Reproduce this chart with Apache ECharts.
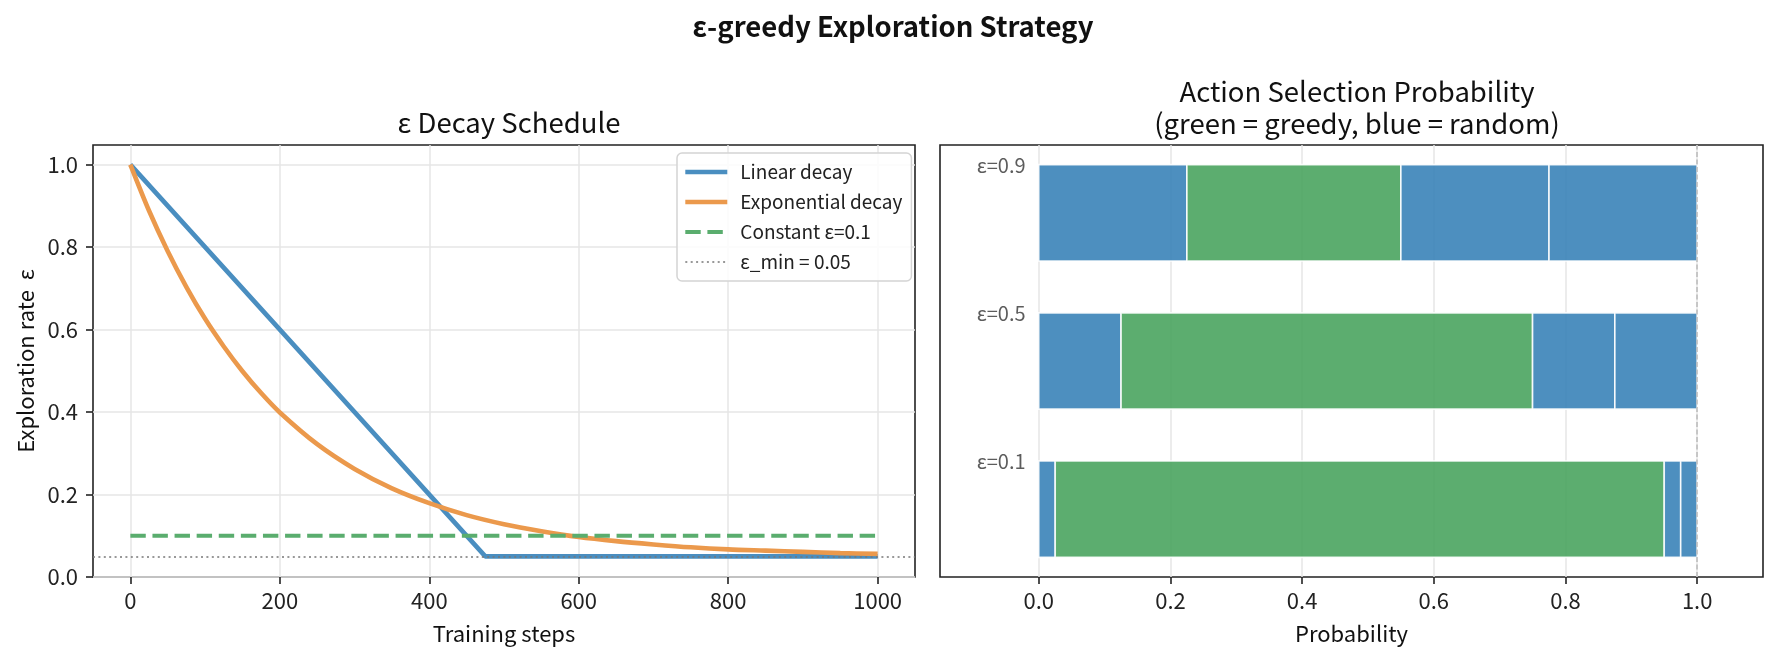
<!DOCTYPE html>
<html>
<head>
<meta charset="utf-8">
<script src="https://cdn.jsdelivr.net/npm/echarts@6/dist/echarts.min.js"></script>
<style>
  html, body { margin: 0; padding: 0; background: #fff; }
  #chart { width: 1777px; height: 661px; }
</style>
</head>
<body>
<div id="chart"></div>
<script>
// left panel: epsilon decay schedules
const linearSteps = [0, 475, 1000];
const linearEps = [1.0, 0.05, 0.05];

const expSteps = [0, 25, 50, 75, 100, 125, 150, 175, 200, 250, 300, 350, 400, 450,
  500, 550, 600, 650, 700, 750, 800, 850, 900, 950, 1000];
const expEps = [1.0, 0.888, 0.79, 0.703, 0.626, 0.559, 0.499, 0.446, 0.399, 0.322,
  0.262, 0.215, 0.179, 0.15, 0.128, 0.111, 0.097, 0.087, 0.079, 0.072, 0.067,
  0.064, 0.061, 0.058, 0.056];

const constSteps = [0, 1000];
const constEps = [0.1, 0.1];
const epsMin = 0.05;

const leftXTicks = [0, 200, 400, 600, 800, 1000];
const leftYTicks = [0, 0.2, 0.4, 0.6, 0.8, 1.0];

// right panel: action probabilities (4 actions, 2nd one greedy)
const epsLabels = ["ε=0.1", "ε=0.5", "ε=0.9"];
const segAction1 = [0.025, 0.125, 0.225];
const segGreedy = [0.925, 0.625, 0.325];
const segAction3 = [0.025, 0.125, 0.225];
const segAction4 = [0.025, 0.125, 0.225];
const segKinds = ["random", "greedy", "random", "random"];
const rightXTicks = [0, 0.2, 0.4, 0.6, 0.8, 1.0];

const blue = "#4A8EC0";
const orange = "#EB994C";
const green = "#5AAD6E";
const barBlue = "#347FB6";
const barGreen = "#46A25B";
const font = "'Noto Sans CJK SC', 'Source Sans Pro', 'Noto Sans', sans-serif";
const ink = "#222";

let chartDom = document.getElementById("chart");
let myChart = echarts.init(chartDom, null, { renderer: "canvas" });

// build bar segments from the arrays
let segRows = [segAction1, segGreedy, segAction3, segAction4];
let barData = [];
epsLabels.forEach((lab, row) => {
  let start = 0;
  segRows.forEach((seg, k) => {
    barData.push([start, start + seg[row], row, k]);
    start += seg[row];
  });
});
let labelData = epsLabels.map((lab, row) => [-0.02, row + 0.32, lab]);

const barHalf = 0.325;

let axisCommon = {
  axisLine: { show: false, onZero: false },
  axisTick: { show: true, length: 7, lineStyle: { color: ink, width: 1.6 } },
  axisLabel: { color: ink, fontSize: 22, fontFamily: font },
  splitLine: { show: true, lineStyle: { color: "#e6e6e6", width: 1.5 } },
  nameTextStyle: { color: "#111", fontSize: 22, fontFamily: font },
};

let option = {
  animation: false,
  backgroundColor: "#fff",
  textStyle: { fontFamily: font },
  title: [
    {
      text: "ε-greedy Exploration Strategy",
      left: 888, top: 5, textAlign: "center",
      textStyle: { fontSize: 27.5, fontWeight: "bold", color: "#111", fontFamily: font, lineHeight: 34 },
    },
    {
      text: "ε Decay Schedule",
      left: 504, top: 102, textAlign: "center",
      textStyle: { fontSize: 27.5, fontWeight: "normal", color: "#111", fontFamily: font, lineHeight: 32 },
    },
    {
      text: "Action Selection Probability\n(green = greedy, blue = random)",
      left: 1352, top: 71, textAlign: "center",
      textStyle: { fontSize: 27.5, fontWeight: "normal", color: "#111", fontFamily: font, lineHeight: 31.6 },
    },
  ],
  legend: {
    data: ["Linear decay", "Exponential decay", "Constant ε=0.1", "ε_min = 0.05"],
    orient: "vertical",
    left: 677, top: 153,
    itemWidth: 42, itemHeight: 14, itemGap: 8,
    padding: [8, 9, 8, 6],
    itemStyle: { opacity: 0 },
    lineStyle: { width: "inherit", type: "inherit" },
    borderColor: "#d4d4d4", borderWidth: 1.5, borderRadius: 5,
    backgroundColor: "rgba(255,255,255,0.85)",
    textStyle: { fontSize: 19, color: ink, fontFamily: font, lineHeight: 22, padding: [0, 0, 0, 8] },
  },
  grid: [
    { left: 93, right: 862, top: 145, bottom: 84, show: true, borderColor: ink, borderWidth: 1.6 },
    { left: 940, right: 14, top: 145, bottom: 84, show: true, borderColor: ink, borderWidth: 1.6 },
  ],
  xAxis: [
    Object.assign({}, axisCommon, {
      type: "value", gridIndex: 0, min: -50, max: 1050,
      name: "Training steps", nameLocation: "middle", nameGap: 46,
      axisTick: Object.assign({}, axisCommon.axisTick, { customValues: leftXTicks }),
      axisLabel: Object.assign({}, axisCommon.axisLabel, {
        customValues: leftXTicks, margin: 13,
        formatter: (v) => String(v),
      }),
    }),
    Object.assign({}, axisCommon, {
      type: "value", gridIndex: 1, min: -0.15, max: 1.1,
      name: "Probability", nameLocation: "middle", nameGap: 46,
      axisTick: Object.assign({}, axisCommon.axisTick, { customValues: rightXTicks }),
      axisLabel: Object.assign({}, axisCommon.axisLabel, {
        customValues: rightXTicks, margin: 13,
        formatter: (v) => v.toFixed(1),
      }),
    }),
  ],
  yAxis: [
    Object.assign({}, axisCommon, {
      type: "value", gridIndex: 0, min: 0, max: 1.0475,
      name: "Exploration rate  ε", nameLocation: "middle", nameGap: 56,
      axisTick: Object.assign({}, axisCommon.axisTick, { customValues: leftYTicks }),
      axisLabel: Object.assign({}, axisCommon.axisLabel, {
        customValues: leftYTicks, margin: 15,
        formatter: (v) => v.toFixed(1),
      }),
    }),
    {
      type: "value", gridIndex: 1, min: -0.4575, max: 2.4575,
      axisLine: { show: false, onZero: false }, axisTick: { show: false },
      axisLabel: { show: false }, splitLine: { show: false },
    },
  ],
  series: [
    {
      name: "Linear decay", type: "line", xAxisIndex: 0, yAxisIndex: 0,
      data: linearSteps.map((s, i) => [s, linearEps[i]]),
      symbol: "none", color: blue,
      lineStyle: { color: blue, width: 4.6 },
    },
    {
      name: "Exponential decay", type: "line", xAxisIndex: 0, yAxisIndex: 0,
      data: expSteps.map((s, i) => [s, expEps[i]]),
      symbol: "none", smooth: 0.3, color: orange,
      lineStyle: { color: orange, width: 4.6 },
    },
    {
      name: "Constant ε=0.1", type: "line", xAxisIndex: 0, yAxisIndex: 0,
      data: constSteps.map((s, i) => [s, constEps[i]]),
      symbol: "none", color: green,
      lineStyle: { color: green, width: 4.2, type: [15.4, 6.7] },
    },
    {
      name: "ε_min = 0.05", type: "line", xAxisIndex: 0, yAxisIndex: 0,
      data: [], symbol: "none", color: "#777",
      lineStyle: { color: "#777", width: 1.7, type: [2, 3.4] },
      markLine: {
        silent: true, symbol: "none", label: { show: false },
        lineStyle: { color: "#777", width: 1.7, type: [2, 3.4] },
        data: [{ yAxis: epsMin }],
      },
    },
    {
      name: "actions", type: "custom", xAxisIndex: 1, yAxisIndex: 1,
      data: barData,
      encode: { x: [0, 1], y: 2 },
      renderItem: function (params, api) {
        let p0 = api.coord([api.value(0), api.value(2) + barHalf]);
        let p1 = api.coord([api.value(1), api.value(2) - barHalf]);
        let kind = segKinds[api.value(3)];
        return {
          type: "rect",
          shape: { x: p0[0], y: p0[1], width: p1[0] - p0[0], height: p1[1] - p0[1] },
          style: { fill: kind === "greedy" ? barGreen : barBlue, stroke: "#fff", lineWidth: 1.6, opacity: 0.88 },
        };
      },
    },
    {
      name: "labels", type: "scatter", xAxisIndex: 1, yAxisIndex: 1,
      data: labelData, symbolSize: 0, silent: true,
      label: {
        show: true, position: "left", distance: 0,
        formatter: (p) => p.value[2],
        fontSize: 20, color: "#333", fontFamily: font,
      },
      markLine: {
        silent: true, symbol: "none", label: { show: false },
        lineStyle: { color: "#bdbdbd", width: 1.6, type: [5, 2.5] },
        data: [{ xAxis: 1.0 }],
      },
      z: 5,
    },
  ],
};

option && myChart.setOption(option);
</script>
</body>
</html>
